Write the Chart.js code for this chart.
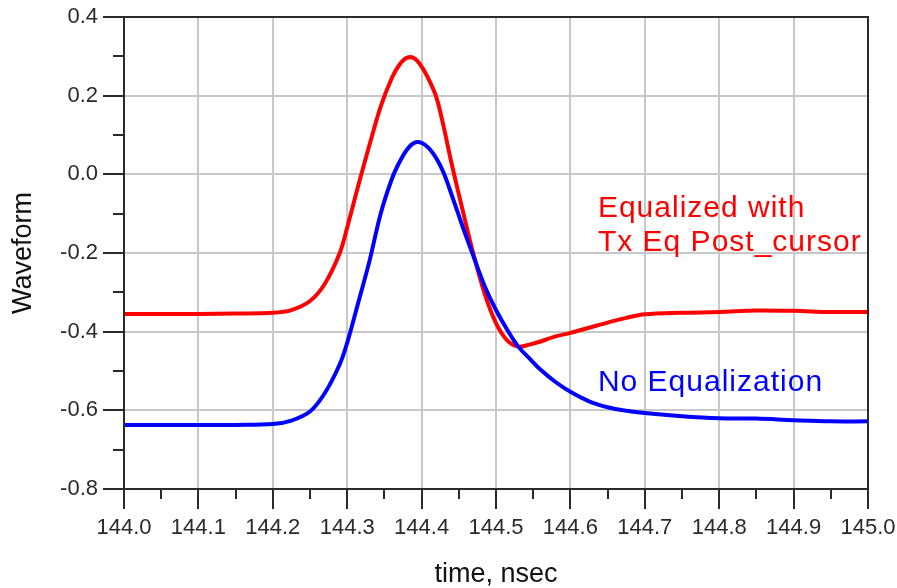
<!DOCTYPE html>
<html>
<head>
<meta charset="utf-8">
<script src="https://cdn.jsdelivr.net/npm/chart.js@4/dist/chart.umd.min.js"></script>
<style>
  html, body { margin: 0; padding: 0; background: #fff; }
  #wrap { width: 897px; height: 588px; position: relative; }
</style>
</head>
<body>
<div id="wrap"><canvas id="waveChart"></canvas></div>
<script>
// ── Data ────────────────────────────────────────────────────────────────────
const timeNs = [
  144.00, 144.05, 144.10, 144.15, 144.20, 144.225, 144.25, 144.27, 144.29, 144.30,
  144.315, 144.33, 144.345, 144.36, 144.37, 144.38, 144.39, 144.40, 144.41, 144.42,
  144.43, 144.44, 144.455, 144.47, 144.485, 144.50, 144.515, 144.53, 144.545, 144.56,
  144.58, 144.60, 144.625, 144.65, 144.675, 144.70, 144.75, 144.80, 144.85, 144.90,
  144.95, 145.00
];

const equalized = [
  -0.355, -0.355, -0.355, -0.354, -0.352, -0.345, -0.322, -0.278, -0.200, -0.135,
  -0.028, 0.075, 0.172, 0.245, 0.278, 0.296, 0.295, 0.274, 0.240, 0.195,
  0.118, 0.030, -0.090, -0.205, -0.305, -0.378, -0.422, -0.438, -0.433, -0.425,
  -0.412, -0.403, -0.390, -0.377, -0.365, -0.356, -0.352, -0.350, -0.346, -0.347,
  -0.350, -0.350
];

const noEqualization = [
  -0.637, -0.637, -0.637, -0.637, -0.635, -0.626, -0.603, -0.556, -0.483, -0.428,
  -0.325, -0.220, -0.100, -0.012, 0.030, 0.062, 0.080, 0.080, 0.066, 0.040,
  0.002, -0.050, -0.132, -0.210, -0.285, -0.345, -0.395, -0.438, -0.468, -0.497,
  -0.528, -0.553, -0.577, -0.592, -0.601, -0.607, -0.615, -0.620, -0.621, -0.625,
  -0.628, -0.628
];

const xTicks = [144.0, 144.1, 144.2, 144.3, 144.4, 144.5, 144.6, 144.7, 144.8, 144.9, 145.0];
const yTicks = [0.4, 0.2, 0.0, -0.2, -0.4, -0.6, -0.8];

const FONT = '"Liberation Sans", Arial, sans-serif';
const AXIS_INK = '#2a2a2a';

function toPoints(xs, ys) {
  return xs.map((x, i) => ({ x: x, y: ys[i] }));
}

// keep the plot box where the reference has it
function noScalePadding(s) {
  s.paddingLeft = 0;
  s.paddingRight = 0;
  s.paddingTop = 0;
  s.paddingBottom = 0;
}

// frame, major/minor ticks and the in-plot labels
const decorations = {
  id: 'decorations',
  afterDraw(chart) {
    const { ctx, chartArea: a, scales: { x, y } } = chart;
    ctx.save();
    ctx.strokeStyle = AXIS_INK;
    ctx.lineWidth = 2;
    ctx.beginPath();
    ctx.rect(a.left, a.top, a.right - a.left, a.bottom - a.top);
    ctx.stroke();

    ctx.beginPath();
    for (let i = 0; i <= 20; i++) {
      const px = Math.round(x.getPixelForValue(144 + i * 0.05));
      const len = i % 2 === 0 ? 20 : 10;
      ctx.moveTo(px, a.bottom);
      ctx.lineTo(px, a.bottom + len);
    }
    for (let i = 0; i <= 12; i++) {
      const py = Math.round(y.getPixelForValue(-0.8 + i * 0.1));
      const len = i % 2 === 0 ? 21 : 11;
      ctx.moveTo(a.left, py);
      ctx.lineTo(a.left - len, py);
    }
    ctx.stroke();

    ctx.font = '30px ' + FONT;
    ctx.letterSpacing = '1px';
    ctx.textAlign = 'left';
    ctx.textBaseline = 'alphabetic';
    ctx.fillStyle = '#ff0000';
    ctx.fillText('Equalized with', x.getPixelForValue(144.637), y.getPixelForValue(-0.109));
    ctx.fillText('Tx Eq Post_cursor', x.getPixelForValue(144.637), y.getPixelForValue(-0.194));
    ctx.fillStyle = '#0000ff';
    ctx.fillText('No Equalization', x.getPixelForValue(144.637), y.getPixelForValue(-0.551));
    ctx.restore();
  }
};

new Chart(document.getElementById('waveChart'), {
  type: 'line',
  data: {
    datasets: [
      {
        label: 'No Equalization',
        data: toPoints(timeNs, noEqualization),
        borderColor: '#0000ff',
        borderWidth: 4,
        pointRadius: 0,
        tension: 0.35
      },
      {
        label: 'Equalized with Tx Eq Post_cursor',
        data: toPoints(timeNs, equalized),
        borderColor: '#ff0000',
        borderWidth: 4,
        pointRadius: 0,
        tension: 0.35
      }
    ]
  },
  options: {
    responsive: true,
    maintainAspectRatio: false,
    animation: false,
    layout: { padding: { top: 17, right: 29, left: 0, bottom: 0 } },
    plugins: {
      legend: { display: false },
      tooltip: { enabled: false }
    },
    scales: {
      x: {
        type: 'linear',
        min: 144.0,
        max: 145.0,
        afterBuildTicks: s => { s.ticks = xTicks.map(v => ({ value: v })); },
        afterFit: s => { s.height = 99; noScalePadding(s); },
        grid: { color: '#c8c8c8', lineWidth: 2, drawTicks: false },
        border: { display: false },
        ticks: {
          padding: 26,
          color: AXIS_INK,
          font: { family: FONT, size: 22 },
          maxRotation: 0,
          callback: v => v.toFixed(1)
        },
        title: {
          display: true,
          text: 'time, nsec',
          color: '#111',
          font: { family: FONT, size: 27, lineHeight: 1 },
          padding: { top: 0, bottom: 0 }
        }
      },
      y: {
        type: 'linear',
        min: -0.8,
        max: 0.4,
        afterBuildTicks: s => { s.ticks = yTicks.map(v => ({ value: v })); },
        afterFit: s => { s.width = 124; noScalePadding(s); },
        grid: { color: '#c8c8c8', lineWidth: 2, drawTicks: false },
        border: { display: false },
        ticks: {
          padding: 26,
          color: AXIS_INK,
          font: { family: FONT, size: 22 },
          callback: v => v.toFixed(1)
        },
        title: {
          display: true,
          text: 'Waveform',
          color: '#111',
          font: { family: FONT, size: 27, lineHeight: 1 },
          padding: { top: 10, bottom: 0 }
        }
      }
    }
  },
  plugins: [decorations]
});
</script>
</body>
</html>
